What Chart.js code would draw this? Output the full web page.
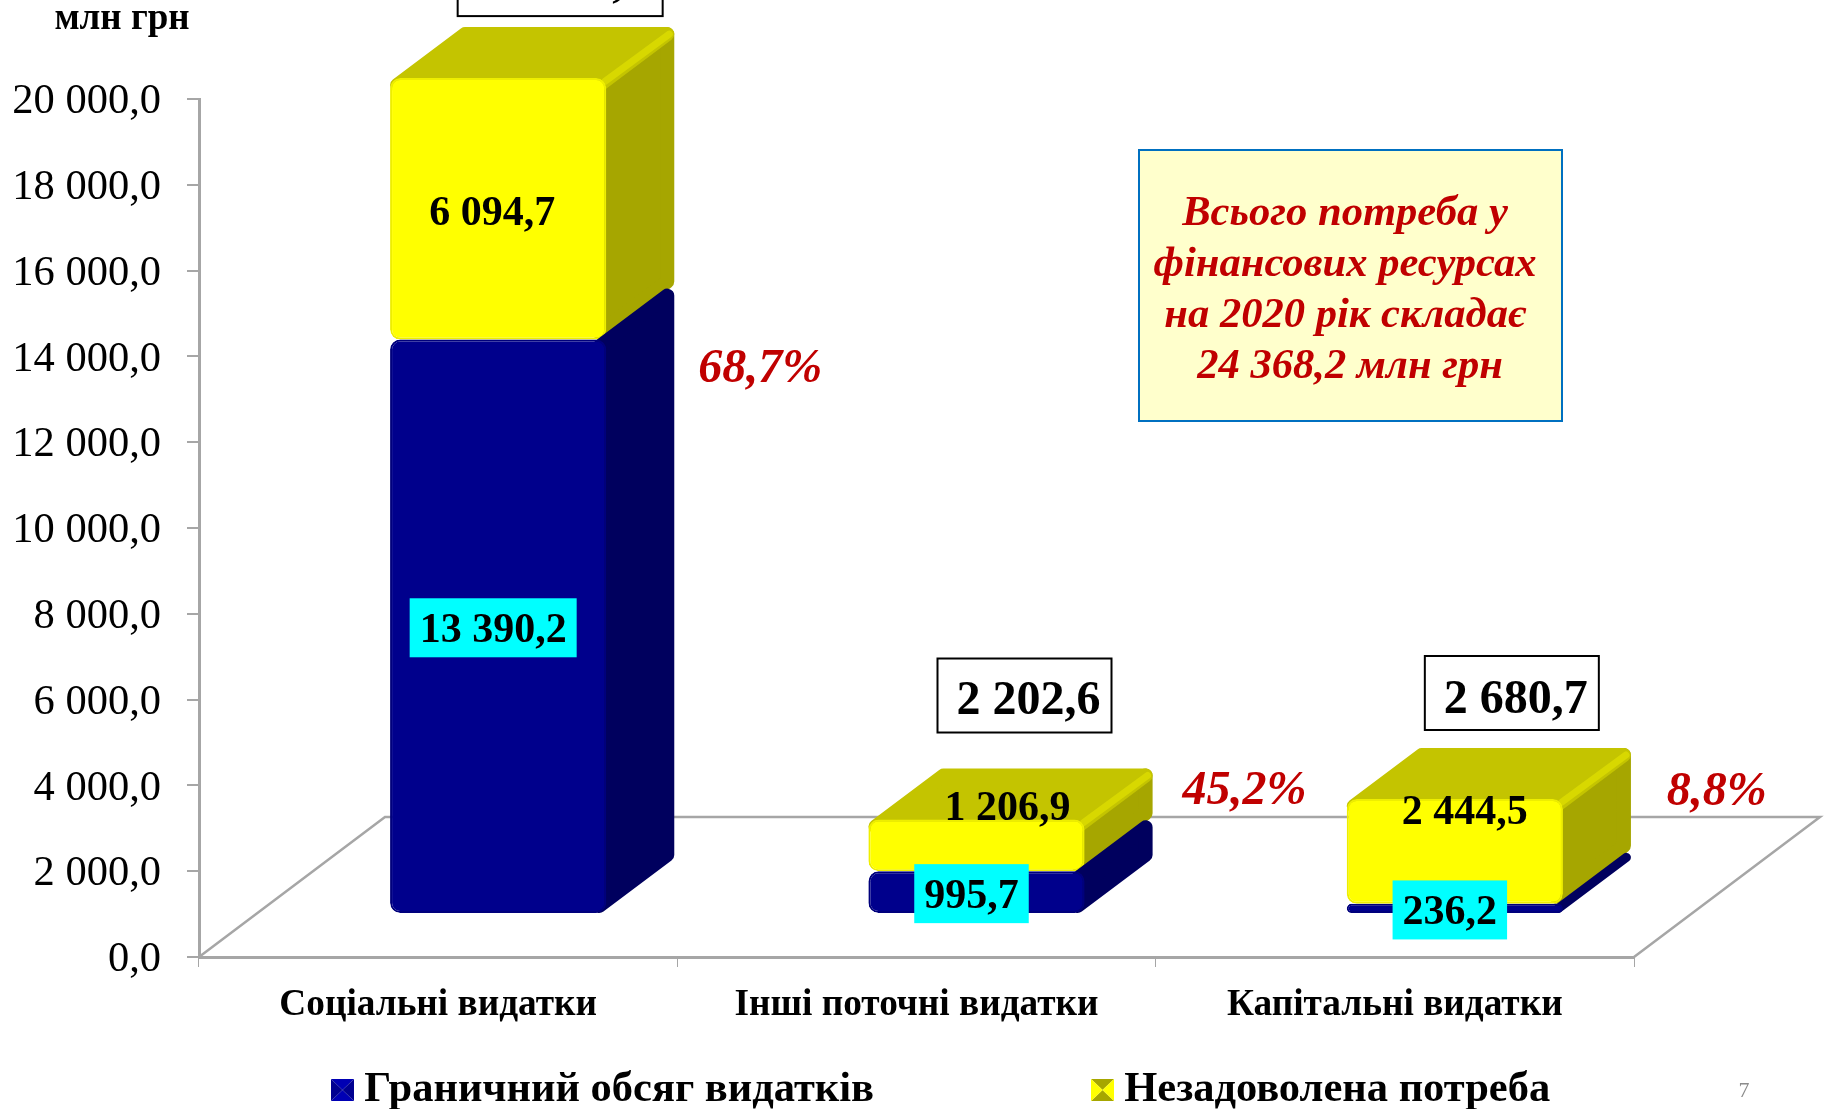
<!DOCTYPE html>
<html>
<head>
<meta charset="utf-8">
<title>Потреба у фінансових ресурсах</title>
<script src="https://cdn.jsdelivr.net/npm/chart.js@4"></script>
<style>
    html, body { margin: 0; padding: 0; background: #fff; overflow: hidden; }
    canvas { display: block; }
</style>
</head>
<body>
<canvas id="needChart" width="1825" height="1109"></canvas>
<script>
// Data
const categories = ['Соціальні видатки', 'Інші поточні видатки', 'Капітальні видатки'];
const limitValues = [13390.2, 995.7, 236.2];
const unmetValues = [6094.7, 1206.9, 2444.5];
const totalValues = [19484.9, 2202.6, 2680.7];
const shareLabels = ['68,7%', '45,2%', '8,8%'];
const seriesNames = ['Граничний обсяг видатків', 'Незадоволена потреба'];
const noteLines = ['Всього потреба у', 'фінансових ресурсах', 'на 2020 рік складає', '24 368,2 млн грн'];

const serif = '"Liberation Serif", "Times New Roman", serif';

// Fake 3D: bars sit in the middle of the floor, so they are shifted off the axes
const shiftX = 60, shiftY = -43;
const depthX = 68, depthY = 51;
const floorX = 186, floorY = 140;

// Nudges for the free text boxes, relative to each bar
const unmetLabelNudge = [[-6, 5], [31, -36], [10, -38]];
const totalBoxNudge = [[62, -99], [48, -124], [57, -106]];
const totalBoxPad = [37, 30, 30];
const totalTextDrop = [4, 6, 8];
const shareX = [262, 268, 262];
const shareY = [370, 792, 793];

function fmt(v) {
    const parts = v.toFixed(1).split('.');
    return parts[0].replace(/\B(?=(\d{3})+$)/g, ' ') + ',' + parts[1];
}

// Small bevelled legend square
function swatch(side, top) {
    const c = document.createElement('canvas');
    c.width = 23; c.height = 22;
    const g = c.getContext('2d');
    const w = c.width, h = c.height;
    const tri = (col, x1, y1, x2, y2) => {
        g.fillStyle = col;
        g.beginPath(); g.moveTo(w / 2, h / 2); g.lineTo(x1, y1); g.lineTo(x2, y2); g.fill();
    };
    tri(top, 0, 0, w, 0);
    tri(top, 0, h, w, h);
    tri(side, 0, 0, 0, h);
    tri(side, w, 0, w, h);
    return c;
}

function facePoly(ctx, pts, color, radius) {
    ctx.fillStyle = color;
    ctx.strokeStyle = color;
    ctx.lineWidth = radius * 2;
    ctx.lineJoin = 'round';
    ctx.beginPath();
    pts.forEach((p, i) => i ? ctx.lineTo(p[0], p[1]) : ctx.moveTo(p[0], p[1]));
    ctx.closePath();
    ctx.fill();
    ctx.stroke();
}

const legendLeft = 342, legendPad = 228, legendFont = 42.5, legendTextY = 1090;

const slidePlugin = {
    id: 'slide',
    beforeLayout(chart) {
        // the wide item gap is also applied vertically by the legend, so cap its height
        const lg = chart.legend;
        if (!lg._capped) {
            const fit = lg.fit;
            lg.fit = function () { fit.call(this); this.height = 60; };
            lg._capped = true;
        }
    },
    afterLayout(chart) {
        const lg = chart.legend;
        lg.left = legendLeft - legendPad;
        lg.top = legendTextY - legendPad - legendFont / 2;
    },
    beforeDatasetsDraw(chart) {
        const { ctx, chartArea, scales } = chart;
        const y0 = scales.y.getPixelForValue(0);
        // floor outline
        ctx.save();
        ctx.strokeStyle = '#a6a6a6';
        ctx.lineWidth = 2.5;
        ctx.beginPath();
        ctx.moveTo(chartArea.left, y0);
        ctx.lineTo(chartArea.left + floorX, y0 - floorY);
        ctx.lineTo(chartArea.right + floorX, y0 - floorY);
        ctx.lineTo(chartArea.right, y0);
        ctx.stroke();
        ctx.restore();
        ctx.save();
        ctx.translate(shiftX, shiftY);
    },
    beforeDatasetDraw(chart, args) {
        const ctx = chart.ctx;
        const ds = chart.data.datasets[args.index];
        args.meta.data.forEach(bar => {
            const w = bar.width / 2;
            const left = bar.x - w, right = bar.x + w;
            const r = Math.min(7, (bar.base - bar.y) / 2);
            facePoly(ctx, [
                [right - r, bar.y + r],
                [right + depthX - r, bar.y + r - depthY],
                [right + depthX - r, bar.base - r - depthY],
                [right - r, bar.base - r]
            ], ds.sideColor, r);
            if (ds.topColor) {
                facePoly(ctx, [
                    [left + r, bar.y + r],
                    [left + depthX + r, bar.y + r - depthY],
                    [right + depthX - r, bar.y + r - depthY],
                    [right - r, bar.y + r]
                ], ds.topColor, r);
                ctx.strokeStyle = ds.edgeColor;
                ctx.lineWidth = 7;
                ctx.lineCap = 'round';
                ctx.beginPath();
                ctx.moveTo(right - 1, bar.y + 3);
                ctx.lineTo(right + depthX - 5, bar.y - depthY + 7);
                ctx.stroke();
            }
        });
    },
    afterDatasetsDraw(chart) {
        const { ctx, scales } = chart;
        ctx.restore();
        const limitBars = chart.getDatasetMeta(0).data;
        const unmetBars = chart.getDatasetMeta(1).data;
        ctx.save();
        ctx.textAlign = 'center';
        ctx.textBaseline = 'middle';

        // value labels inside the bars
        ctx.font = 'bold 42px ' + serif;
        limitBars.forEach((bar, i) => {
            const txt = fmt(limitValues[i]);
            const cx = bar.x + shiftX - 5;
            const cy = (bar.y + bar.base) / 2 + shiftY + 3;
            const tw = ctx.measureText(txt).width;
            ctx.fillStyle = '#00ffff';
            ctx.fillRect(cx - tw / 2 - 10, cy - 31, tw + 20, 59);
            ctx.fillStyle = '#000';
            ctx.fillText(txt, cx, cy + 2);
        });
        unmetBars.forEach((bar, i) => {
            ctx.fillStyle = '#000';
            ctx.fillText(fmt(unmetValues[i]), bar.x + shiftX + unmetLabelNudge[i][0],
                (bar.y + bar.base) / 2 + shiftY + unmetLabelNudge[i][1]);
        });

        // boxed totals above the bars
        ctx.font = 'bold 48px ' + serif;
        unmetBars.forEach((bar, i) => {
            const cx = bar.x + shiftX + totalBoxNudge[i][0];
            const cy = scales.y.getPixelForValue(totalValues[i]) + shiftY + totalBoxNudge[i][1];
            const txt = fmt(totalValues[i]);
            const bw = ctx.measureText(txt).width + totalBoxPad[i];
            ctx.fillStyle = '#fff';
            ctx.strokeStyle = '#000';
            ctx.lineWidth = 2;
            ctx.fillRect(cx - bw / 2, cy - 37, bw, 74);
            ctx.strokeRect(cx - bw / 2, cy - 37, bw, 74);
            ctx.fillStyle = '#000';
            ctx.fillText(txt, cx + 4, cy + totalTextDrop[i]);
        });

        // percent shares
        ctx.font = 'italic bold 48px ' + serif;
        ctx.fillStyle = '#c00000';
        unmetBars.forEach((bar, i) => {
            ctx.fillText(shareLabels[i], bar.x + shiftX + shareX[i], shareY[i]);
        });

        // note box
        ctx.fillStyle = '#ffffcc';
        ctx.strokeStyle = '#0070c0';
        ctx.lineWidth = 2;
        ctx.fillRect(1139, 150, 423, 271);
        ctx.strokeRect(1139, 150, 423, 271);
        ctx.fillStyle = '#c00000';
        ctx.font = 'italic bold 42.6px ' + serif;
        noteLines.forEach((line, i) => {
            ctx.fillText(line, i === 3 ? 1350 : 1345, 214 + i * 51);
        });

        // unit and slide number
        ctx.fillStyle = '#000';
        ctx.font = 'bold 37px ' + serif;
        ctx.fillText('млн грн', 122, 19);
        ctx.fillStyle = '#8c8c8c';
        ctx.font = '22px ' + serif;
        ctx.fillText('7', 1744, 1091);
        ctx.restore();
    }
};

new Chart(document.getElementById('needChart').getContext('2d'), {
    type: 'bar',
    data: {
        labels: categories,
        datasets: [{
            label: seriesNames[0],
            data: limitValues,
            backgroundColor: '#00008c',
            borderColor: '#00007c',
            borderWidth: 2,
            sideColor: '#00005e',
            pointStyle: swatch('#000090', '#0000b4')
        }, {
            label: seriesNames[1],
            data: unmetValues,
            backgroundColor: '#ffff00',
            borderColor: '#eeee00',
            borderWidth: 2,
            sideColor: '#a6a600',
            topColor: '#c4c400',
            edgeColor: '#d8d800',
            pointStyle: swatch('#ffff00', '#a6a600')
        }]
    },
    options: {
        responsive: false,
        animation: false,
        clip: false,
        barPercentage: 0.452,
        categoryPercentage: 1,
        borderRadius: { topLeft: 10, topRight: 10, bottomLeft: 10, bottomRight: 10 },
        borderSkipped: false,
        layout: { padding: { top: 99 } },
        scales: {
            x: {
                stacked: true,
                afterFit(s) { s.height = 92; },
                border: { display: true, color: '#a6a6a6', width: 3 },
                grid: { display: true, drawOnChartArea: false, tickLength: 10, color: '#a6a6a6', lineWidth: 1 },
                ticks: { color: '#000', padding: 16, maxRotation: 0, font: { family: serif, size: 37.3, weight: 'bold' } }
            },
            y: {
                stacked: true,
                min: 0,
                max: 20000,
                afterFit(s) { s.width = 199; },
                border: { display: true, color: '#a6a6a6', width: 3 },
                grid: { display: true, drawOnChartArea: false, tickLength: 12, color: '#a6a6a6', lineWidth: 2 },
                ticks: {
                    stepSize: 2000,
                    color: '#000',
                    padding: 26,
                    labelOffset: 3,
                    font: { family: serif, size: 42.5 },
                    callback: v => fmt(v)
                }
            },
            // empty axis, only keeps the free space right of the plot
            rightGap: {
                position: 'right',
                afterFit(s) { s.width = 191; },
                border: { display: false },
                grid: { display: false },
                ticks: { display: false }
            }
        },
        plugins: {
            tooltip: { enabled: false },
            legend: {
                position: 'bottom',
                align: 'start',
                labels: {
                    color: '#000',
                    usePointStyle: true,
                    pointStyleWidth: 1,
                    padding: legendPad,
                    font: { family: serif, size: legendFont, weight: 'bold' }
                }
            }
        }
    },
    plugins: [slidePlugin]
});
</script>
</body>
</html>
